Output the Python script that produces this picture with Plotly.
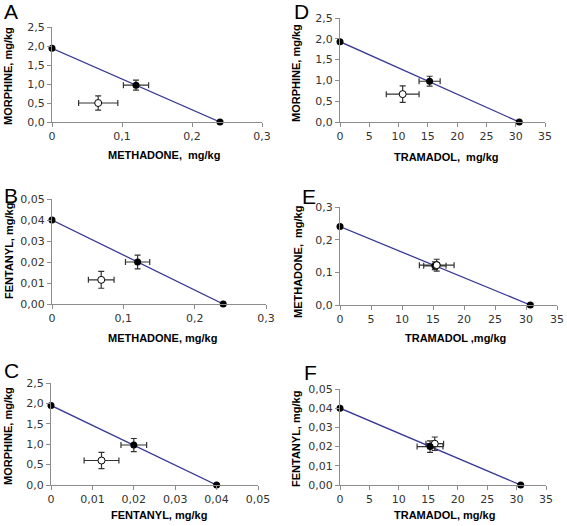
import plotly.graph_objects as go

# ---------------- data ----------------
# Panel A: morphine vs methadone
A_line_x = [0, 0.24]
A_line_y = [1.94, 0]
A_fill_x = [0.12]; A_fill_y = [0.97]; A_fill_xerr = [0.018]; A_fill_yerr = [0.13]
A_open_x = [0.066]; A_open_y = [0.50]; A_open_xerr = [0.028]; A_open_yerr = [0.19]
# Panel B: fentanyl vs methadone
B_line_x = [0, 0.24]
B_line_y = [0.040, 0]
B_fill_x = [0.12]; B_fill_y = [0.020]; B_fill_xerr = [0.017]; B_fill_yerr = [0.0033]
B_open_x = [0.069]; B_open_y = [0.0115]; B_open_xerr = [0.018]; B_open_yerr = [0.0040]
# Panel C: morphine vs fentanyl
C_line_x = [0, 0.040]
C_line_y = [1.95, 0]
C_fill_x = [0.020]; C_fill_y = [0.98]; C_fill_xerr = [0.0031]; C_fill_yerr = [0.16]
C_open_x = [0.0122]; C_open_y = [0.60]; C_open_xerr = [0.0042]; C_open_yerr = [0.20]
# Panel D: morphine vs tramadol
D_line_x = [0, 30.6]
D_line_y = [1.93, 0]
D_fill_x = [15.3]; D_fill_y = [0.98]; D_fill_xerr = [1.8]; D_fill_yerr = [0.12]
D_open_x = [10.7]; D_open_y = [0.67]; D_open_xerr = [2.8]; D_open_yerr = [0.20]
# Panel E: methadone vs tramadol
E_line_x = [0, 30.7]
E_line_y = [0.24, 0]
E_fill_x = [15.3]; E_fill_y = [0.120]; E_fill_xerr = [1.8]; E_fill_yerr = [0.012]
E_open_x = [15.6]; E_open_y = [0.122]; E_open_xerr = [2.8]; E_open_yerr = [0.018]
# Panel F: fentanyl vs tramadol
F_line_x = [0, 30.7]
F_line_y = [0.040, 0]
F_fill_x = [15.3]; F_fill_y = [0.020]; F_fill_xerr = [2.2]; F_fill_yerr = [0.0030]
F_open_x = [16.1]; F_open_y = [0.0215]; F_open_xerr = [1.5]; F_open_yerr = [0.0035]

# tick labels
tick_methadone_x = ["0", "0,1", "0,2", "0,3"]
tick_methadone_xv = [0, 0.1, 0.2, 0.3]
tick_fentanyl_x = ["0", "0,01", "0,02", "0,03", "0,04", "0,05"]
tick_fentanyl_xv = [0, 0.01, 0.02, 0.03, 0.04, 0.05]
tick_tramadol_x = ["0", "5", "10", "15", "20", "25", "30", "35"]
tick_tramadol_xv = [0, 5, 10, 15, 20, 25, 30, 35]
tick_morphine_y = ["0,0", "0,5", "1,0", "1,5", "2,0", "2,5"]
tick_morphine_yv = [0, 0.5, 1.0, 1.5, 2.0, 2.5]
tick_fentanyl_y = ["0,00", "0,01", "0,02", "0,03", "0,04", "0,05"]
tick_fentanyl_yv = [0, 0.01, 0.02, 0.03, 0.04, 0.05]
tick_methadone_y = ["0,0", "0,1", "0,2", "0,3"]
tick_methadone_yv = [0, 0.1, 0.2, 0.3]

letters = ["A", "B", "C", "D", "E", "F"]
x_titles = ["METHADONE,  mg/kg", "METHADONE, mg/kg", "FENTANYL, mg/kg",
            "TRAMADOL,  mg/kg", "TRAMADOL ,mg/kg", "TRAMADOL, mg/kg"]
y_titles = ["MORPHINE, mg/kg", "FENTANYL, mg/kg", "MORPHINE, mg/kg",
            "MORPHINE, mg/kg", "METHADONE,  mg/kg", "FENTANYL, mg/kg"]

W, H = 567, 526

panels = [
    dict(line=(A_line_x, A_line_y), fill=(A_fill_x, A_fill_y, A_fill_xerr, A_fill_yerr),
         open=(A_open_x, A_open_y, A_open_xerr, A_open_yerr),
         xt=(tick_methadone_xv, tick_methadone_x), yt=(tick_morphine_yv, tick_morphine_y),
         box=(52, 262, 27, 122), letter=(2, 11), xtitle=(164, 155), ytitle=(8, 76)),
    dict(line=(B_line_x, B_line_y), fill=(B_fill_x, B_fill_y, B_fill_xerr, B_fill_yerr),
         open=(B_open_x, B_open_y, B_open_xerr, B_open_yerr),
         xt=(tick_methadone_xv, tick_methadone_x), yt=(tick_fentanyl_yv, tick_fentanyl_y),
         box=(52, 266, 199, 304), letter=(2, 195), xtitle=(162, 338), ytitle=(9, 251)),
    dict(line=(C_line_x, C_line_y), fill=(C_fill_x, C_fill_y, C_fill_xerr, C_fill_yerr),
         open=(C_open_x, C_open_y, C_open_xerr, C_open_yerr),
         xt=(tick_fentanyl_xv, tick_fentanyl_x), yt=(tick_morphine_yv, tick_morphine_y),
         box=(51, 258, 383, 485), letter=(2, 370), xtitle=(159, 515), ytitle=(8, 436)),
    dict(line=(D_line_x, D_line_y), fill=(D_fill_x, D_fill_y, D_fill_xerr, D_fill_yerr),
         open=(D_open_x, D_open_y, D_open_xerr, D_open_yerr),
         xt=(tick_tramadol_xv, tick_tramadol_x), yt=(tick_morphine_yv, tick_morphine_y),
         box=(340, 545, 18, 122), letter=(292, 11), xtitle=(446, 157), ytitle=(296, 73)),
    dict(line=(E_line_x, E_line_y), fill=(E_fill_x, E_fill_y, E_fill_xerr, E_fill_yerr),
         open=(E_open_x, E_open_y, E_open_xerr, E_open_yerr),
         xt=(tick_tramadol_xv, tick_tramadol_x), yt=(tick_methadone_yv, tick_methadone_y),
         box=(340, 557, 207, 305), letter=(300, 197), xtitle=(455, 338), ytitle=(298, 262)),
    dict(line=(F_line_x, F_line_y), fill=(F_fill_x, F_fill_y, F_fill_xerr, F_fill_yerr),
         open=(F_open_x, F_open_y, F_open_xerr, F_open_yerr),
         xt=(tick_tramadol_xv, tick_tramadol_x), yt=(tick_fentanyl_yv, tick_fentanyl_y),
         box=(340, 546, 389, 485), letter=(302, 372), xtitle=(444, 515), ytitle=(296, 439)),
]

fig = go.Figure()
layout = dict(width=W, height=H, margin=dict(l=0, r=0, t=0, b=0, autoexpand=False),
              paper_bgcolor="white", plot_bgcolor="white", showlegend=False,
              font=dict(family="DejaVu Sans", size=11, color="#333333"))
annotations = []
axis_color = "#8c8c8c"
line_color = "#3a3a96"
err_color = "#333333"

for i, p in enumerate(panels):
    n = i + 1
    xa = "x" if n == 1 else f"x{n}"
    ya = "y" if n == 1 else f"y{n}"
    x0, x1, y0, y1 = p["box"]
    xt_v, xt_t = p["xt"]
    yt_v, yt_t = p["yt"]
    layout["xaxis" if n == 1 else f"xaxis{n}"] = dict(
        domain=[x0 / W, x1 / W], anchor=ya, range=[xt_v[0], xt_v[-1]], automargin=False,
        tickvals=xt_v, ticktext=xt_t, ticks="outside", ticklen=4, tickcolor=axis_color,
        showline=True, linecolor=axis_color, linewidth=1, showgrid=False, zeroline=False,
        tickfont=dict(size=11, family="DejaVu Sans", color="#333333"))
    layout["yaxis" if n == 1 else f"yaxis{n}"] = dict(
        domain=[1 - y1 / H, 1 - y0 / H], anchor=xa, range=[yt_v[0], yt_v[-1]], automargin=False,
        tickvals=yt_v, ticktext=yt_t, ticks="outside", ticklen=4, tickcolor=axis_color,
        showline=True, linecolor=axis_color, linewidth=1, showgrid=False, zeroline=False,
        tickfont=dict(size=11, family="DejaVu Sans", color="#333333"))

    lx, ly = p["line"]
    fig.add_trace(go.Scatter(x=lx, y=ly, mode="lines+markers", xaxis=xa, yaxis=ya,
                             line=dict(color=line_color, width=1.3), cliponaxis=False,
                             marker=dict(color="black", size=7)))
    ox, oy, oxe, oye = p["open"]
    fig.add_trace(go.Scatter(x=ox, y=oy, mode="markers", xaxis=xa, yaxis=ya,
                             marker=dict(color="white", size=7, line=dict(color="black", width=1)),
                             error_x=dict(type="data", array=oxe, color=err_color, thickness=1.2, width=3),
                             error_y=dict(type="data", array=oye, color=err_color, thickness=1.2, width=3)))
    fx, fy, fxe, fye = p["fill"]
    fig.add_trace(go.Scatter(x=fx, y=fy, mode="markers", xaxis=xa, yaxis=ya,
                             marker=dict(color="black", size=7),
                             error_x=dict(type="data", array=fxe, color=err_color, thickness=1.2, width=3),
                             error_y=dict(type="data", array=fye, color=err_color, thickness=1.2, width=3)))
    if i == 4:
        # in panel E the open point is drawn on top
        fig.add_trace(go.Scatter(x=ox, y=oy, mode="markers", xaxis=xa, yaxis=ya,
                                 marker=dict(color="white", size=7, line=dict(color="black", width=1))))

    lxp, lyp = p["letter"]
    annotations.append(dict(text=letters[i], x=lxp / W, y=1 - lyp / H, xref="paper", yref="paper",
                            xanchor="left", yanchor="middle", showarrow=False,
                            font=dict(family="Liberation Sans", size=21, color="black")))
    tx, ty = p["xtitle"]
    annotations.append(dict(text=f"<b>{x_titles[i]}</b>", x=tx / W, y=1 - ty / H, xref="paper", yref="paper",
                            xanchor="center", yanchor="middle", showarrow=False,
                            font=dict(family="Liberation Sans", size=11, color="black")))
    yx, yy = p["ytitle"]
    annotations.append(dict(text=f"<b>{y_titles[i]}</b>", x=yx / W, y=1 - yy / H, xref="paper", yref="paper",
                            xanchor="center", yanchor="middle", showarrow=False, textangle=-90,
                            font=dict(family="Liberation Sans", size=11, color="black")))

layout["annotations"] = annotations
fig.update_layout(**layout)
fig.write_html("out.html", config={"displayModeBar": False, "staticPlot": True},
               post_script="document.body.style.margin='0px';document.body.style.padding='0px';")
